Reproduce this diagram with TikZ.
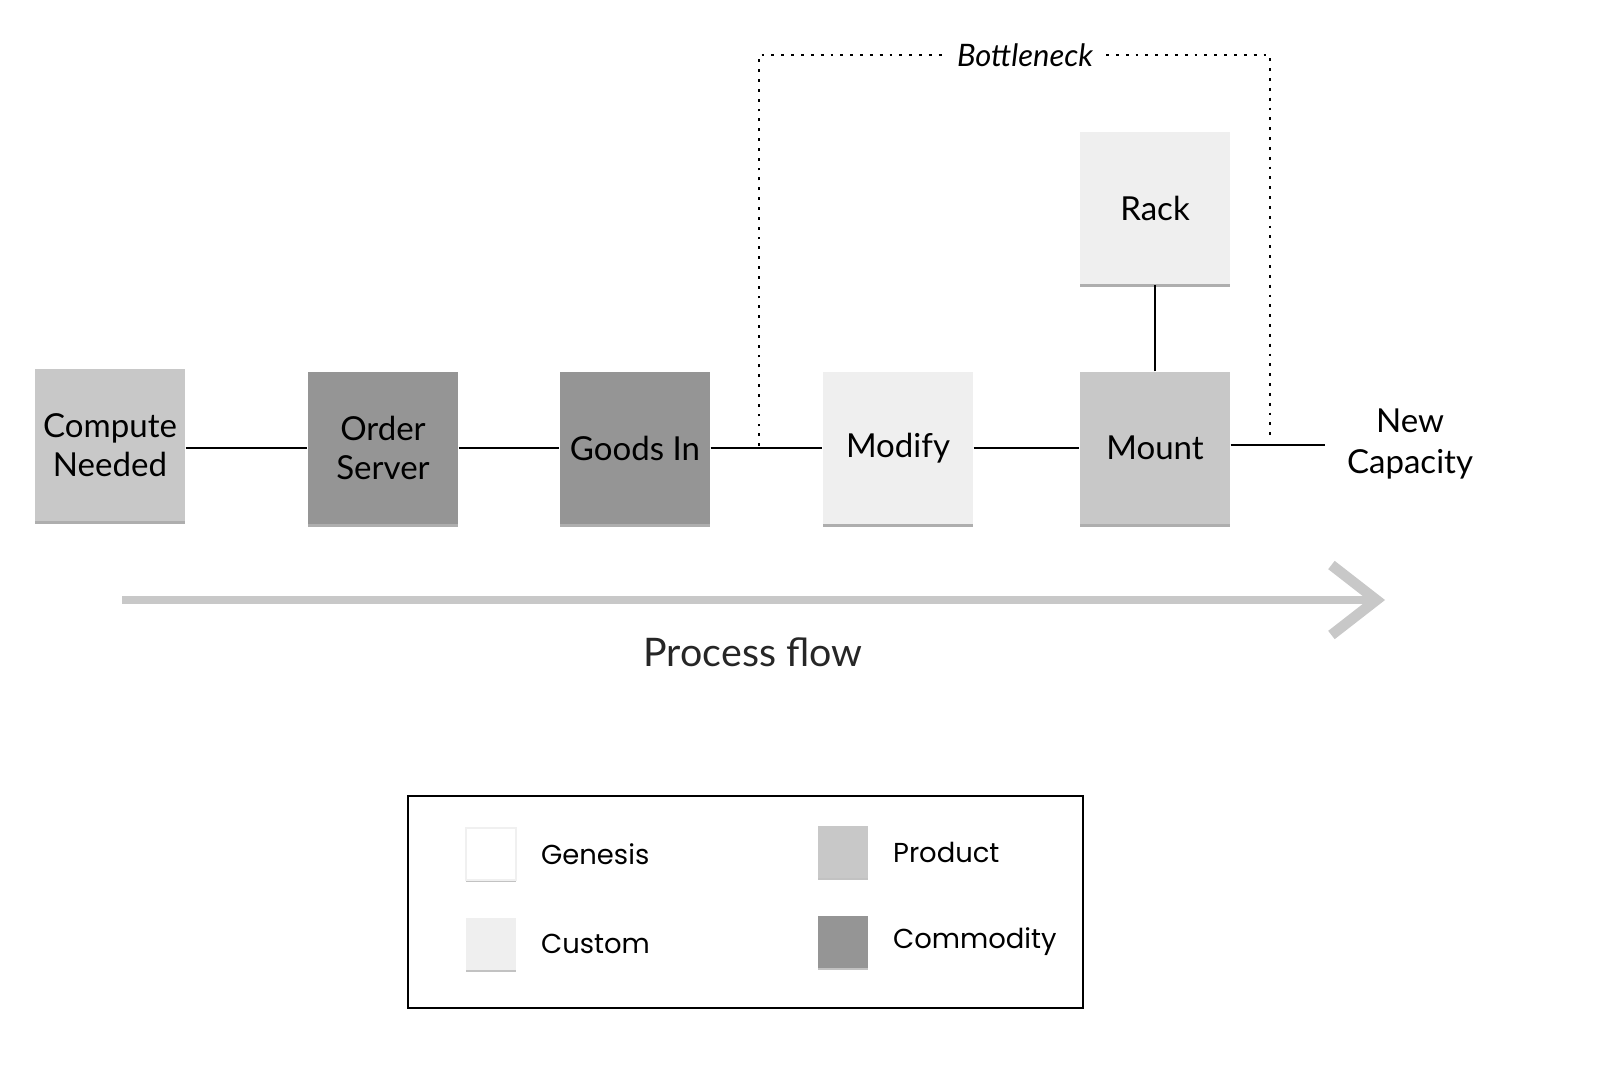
\documentclass[tikz,border=0pt]{standalone}
\usepackage{fontspec}
\setmainfont{Lato}
\newfontfamily\legendfont{Poppins}
\usetikzlibrary{positioning,arrows.meta,shadows}
\definecolor{genesisC}{HTML}{FFFFFF}
\definecolor{customC}{HTML}{EFEFEF}
\definecolor{productC}{HTML}{C8C8C8}
\definecolor{commodityC}{HTML}{959595}
\begin{document}
\begin{tikzpicture}[
    stage/.style={minimum width=1.5cm, minimum height=1.52cm, inner sep=1pt, align=center, font=\fontsize{9.4}{11.2}\selectfont,
        drop shadow={shadow xshift=0pt, shadow yshift=-0.025cm, fill=black!45, opacity=0.7}},
    swatch/.style={minimum width=0.5cm, minimum height=0.52cm, inner sep=0pt,
        drop shadow={shadow xshift=0pt, shadow yshift=-0.02cm, fill=black!40, opacity=0.6}},
    legtext/.style={anchor=west, font=\legendfont\fontsize{7.8}{9.5}\selectfont},
    link/.style={line width=0.6pt}
]
    \useasboundingbox (0,0) rectangle (16,10.76);

    % Stufen
    \node[stage, fill=productC] (cn) at (1.10, 6.31) {Compute\\Needed};
    \node[stage, fill=commodityC] (os) at (3.83, 6.28) {Order\\Server};
    \node[stage, fill=commodityC] (gi) at (6.35, 6.28) {Goods In};
    \node[stage, fill=customC] (mo) at (8.98, 6.28) {Modify};
    \node[stage, fill=productC] (mt) at (11.55, 6.28) {Mount};
    \node[stage, fill=customC] (rk) at (11.55, 8.68) {Rack};

    % Ergebnis
    \node[align=center, font=\fontsize{9.4}{11.5}\selectfont] (nc) at (14.10, 6.32) {New\\Capacity};
    \coordinate (end) at (13.25, 6.31);

    % Verbindungen
    \draw[link] (cn.east |- os.west) -- (os);
    \draw[link] (os) -- (gi);
    \draw[link] (gi) -- (mo);
    \draw[link] (mo) -- (mt);
    \draw[link] (mt) -- (rk);
    \draw[link] (mt.east |- end) -- (end);

    % Bottleneck
    \coordinate (bl) at (7.59, 6.30);
    \coordinate (br) at (12.70, 6.39);
    \draw[dotted, thick] (bl) -- (7.59, 10.21) -- (12.70, 10.21) -- (br);
    \node[fill=white, inner sep=3pt, font=\itshape\fontsize{8.8}{10}\selectfont] (bn) at (10.25, 10.21) {Bottleneck};

    % Prozessfluss
    \coordinate (pf0) at (1.22, 4.76);
    \coordinate (pf1) at (13.85, 4.76);
    \draw[line width=2.4pt, productC, -{Straight Barb[length=0.45cm, width=0.7cm, line width=3pt]}] (pf0) -- (pf1);
    \node[font=\fontsize{11.2}{13}\selectfont, text=black!85] (pfl) at (7.53, 4.24) {Process flow};

    % Legende
    \node[draw, thick, minimum width=6.75cm, minimum height=2.12cm] (lg) at (7.455, 1.74) {};
    \node[swatch, fill=genesisC, draw=black!6] (gsw) at (4.91, 2.22) {};
    \node[swatch, fill=customC] (csw) at (4.91, 1.32) {};
    \node[swatch, fill=productC] (psw) at (8.43, 2.24) {};
    \node[swatch, fill=commodityC] (msw) at (8.43, 1.34) {};
    \node[legtext, right=0.12cm of gsw] (gl) {Genesis};
    \node[legtext, right=0.12cm of csw] (cl) {Custom};
    \node[legtext, right=0.12cm of psw] (pl) {Product};
    \node[legtext, right=0.12cm of msw] (ml) {Commodity};
\end{tikzpicture}
\end{document}
